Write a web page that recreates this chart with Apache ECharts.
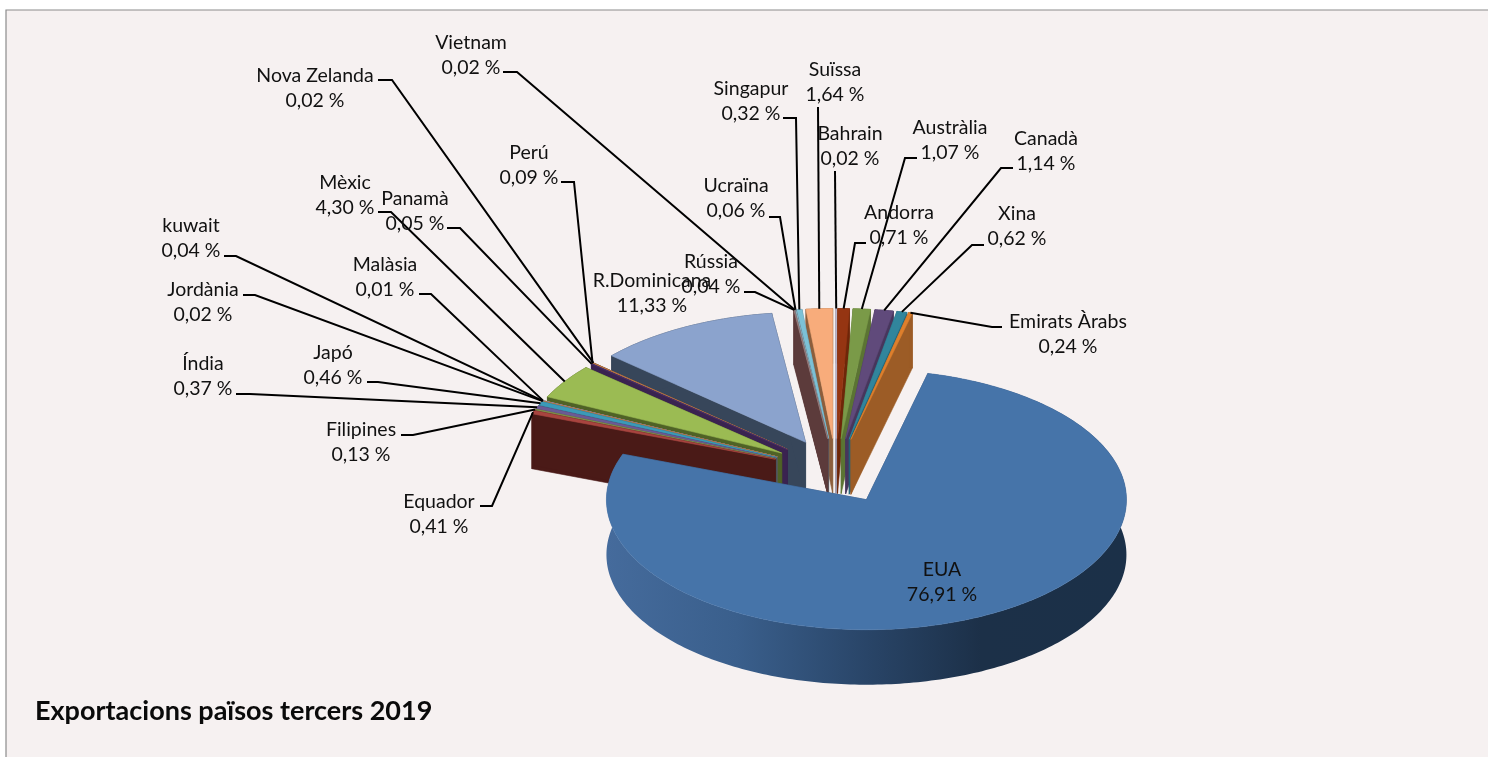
<!DOCTYPE html>
<html><head><meta charset="utf-8">
<style>html,body{margin:0;padding:0;background:#fff}#c{width:1488px;height:757px}</style>
<script src="https://cdn.jsdelivr.net/npm/echarts@6/dist/echarts.min.js"></script>
</head><body><div id="c"></div>
<script>
// ---- data (clockwise from 12 o'clock) ----
const categories = ['Bahrain','Andorra','Austràlia','Canadà','Xina','Emirats Àrabs','EUA','Equador','Filipines','Índia','Japó','Jordània','kuwait','Malàsia','Mèxic','Panamà','Perú','Nova Zelanda','R.Dominicana','Rússia','Vietnam','Ucraïna','Singapur','Suïssa'];
const shares = [0.02,0.71,1.07,1.14,0.62,0.24,76.91,0.41,0.13,0.37,0.46,0.02,0.04,0.01,4.30,0.05,0.09,0.02,11.33,0.04,0.02,0.06,0.32,1.64];
const chartTitle = 'Exportacions països tercers 2019';

// ---- styles ----
const topColors  = ['#cfc8da','#953512','#7a9a48','#604a7b','#31859c','#de7f2c','#4674a9','#a8443f','#7f8f4c','#6c5a94','#3b9ab8','#d07e3a','#8aa0c8','#c98a8a','#9bbb53','#4a3168','#d98a3d','#d98a3d','#8ba3cd','#9a7f7f','#8fb8c8','#8fc5d6','#7cc1d6','#f8ac7b'];
const wallColors = ['#8a8299','#6e2609','#5b7433','#47365c','#246374','#9c5c26','#2f4e74','#4a1a17','#5c6b38','#4d3f6b','#2a6f85','#7a4a20','#5f6f8f','#8f5f5f','#4f6226','#3a2350','#33284f','#33284f','#37465a','#5c3b3b','#5c3b3b','#5c3b3b','#5f7f8c','#8c5e3c'];

// ---- layout: pie plane ----
const geo = {cx:836, cy:471, rx:260, ry:130, depth:55, explode:0.25};
// label centre [x, y], leader start [x, y], leader elbow [x, y]
const labelLayout = {
 'Vietnam':[471,55,503,72,517,72],'Nova Zelanda':[315,88,378,80,392,80],'Perú':[529,165,561,182,574,182],
 'Mèxic':[345,195,378,212,391,212],'Panamà':[415,211,447,228,460,228],'kuwait':[191,238,224,256,236,256],
 'Malàsia':[385,277,419,294,431,294],'Jordània':[203,302,243,295,255,295],'Japó':[333,365,367,382,378,382],
 'Índia':[203,376,236,394,250,394],'Filipines':[361,442,401,435,413,435],'Equador':[439,514,480,506,492,506],
 'R.Dominicana':[652,293],'Rússia':[711,274,744,292,755,292],'Ucraïna':[736,198,769,217,780,217],
 'Singapur':[751,101,783,118,796,118],'Suïssa':[835,82,818,107,818,107],'Bahrain':[850,146,835,171,835,171],
 'Andorra':[899,225,866,243,855,243],'Austràlia':[950,140,917,158,905,158],'Canadà':[1046,151,1013,168,1001,168],
 'Xina':[1017,226,984,245,972,245],'Emirats Àrabs':[1068,334,1002,327,992,327],'EUA':[942,582]
};

const total = shares.reduce((a,b)=>a+b,0);
const deg = Math.PI/180;
let cum = 0;
const slices = shares.map((v,i)=>{const a0=cum/total*360*deg; cum+=v; const a1=cum/total*360*deg; return {i,a0,a1,mid:(a0+a1)/2};});
const paintRank = {};
slices.slice().sort((p,q)=>{
  if (categories[p.i]==='EUA') return 1; if (categories[q.i]==='EUA') return -1;
  return Math.cos(q.mid)-Math.cos(p.mid) ? Math.cos(p.mid)>Math.cos(q.mid)?-1:1 : 0;
}).forEach((s,k)=>paintRank[s.i]=k);

function apex(s){return [geo.cx+geo.explode*geo.rx*Math.sin(s.mid), geo.cy-geo.explode*geo.ry*Math.cos(s.mid)];}
function rim(s,a){const c=apex(s);return [c[0]+geo.rx*Math.sin(a), c[1]-geo.ry*Math.cos(a)];}
function arcPts(s){const n=Math.max(2,Math.ceil((s.a1-s.a0)/deg));const o=[];for(let k=0;k<=n;k++)o.push(rim(s,s.a0+(s.a1-s.a0)*k/n));return o;}
const dn=p=>[p[0],p[1]+geo.depth];
const fmt=v=>v.toFixed(2).replace('.',',')+' %';

function poly(points,fill,z2){return {type:'polygon',shape:{points},z2,style:{fill,stroke:typeof fill==='string'?fill:null,lineWidth:typeof fill==='string'?0.6:0}};}

const euaWall = new echarts.graphic.LinearGradient(0,0,1,0,[
 {offset:0,color:'#456b9c'},{offset:0.25,color:'#3a5f8c'},{offset:0.5,color:'#294568'},{offset:0.72,color:'#1c3048'},{offset:1,color:'#1b3048'}]);

function renderSlice(params,api){
  const i=api.value(0), s=slices[i], z=paintRank[i]*10+10;
  const c=apex(s), arc=arcPts(s), wall=wallColors[i], top=topColors[i];
  const kids=[];
  const isEUA=categories[i]==='EUA';
  kids.push(poly([c,arc[0],dn(arc[0]),dn(c)],wall,z));
  kids.push(poly([c,arc[arc.length-1],dn(arc[arc.length-1]),dn(c)],wall,z));
  const low=arc.slice().reverse().map(dn);
  kids.push(poly(arc.concat(low), isEUA?euaWall:wall, z+1));
  kids.push(poly([c].concat(arc),top,z+2));
  return {type:'group',children:kids};
}
function renderLabel(params,api){
  const i=api.value(0), s=slices[i], name=categories[i], L=labelLayout[name];
  const kids=[{type:'text',z2:1002,style:{x:L[0],y:L[1],text:name+'\n'+fmt(shares[i]),align:'center',verticalAlign:'middle',
      font:'19.5px Lato, "Open Sans", sans-serif',lineHeight:25.5,fill:'#111'}}];
  if(L.length>2){
    const e=rim(s,s.mid);
    kids.push({type:'polyline',z2:1000,shape:{points:[[L[2],L[3]],[L[4],L[5]],e]},style:{stroke:'#000',lineWidth:2,fill:null}});
  }
  return {type:'group',children:kids};
}
const rows=shares.map((v,i)=>[i,v]);
const chart=echarts.init(document.getElementById('c'),null,{renderer:'canvas'});
chart.setOption({
  animation:false,backgroundColor:'#fff',
  title:{text:chartTitle,left:35,top:698,padding:0,textStyle:{fontFamily:'Lato, "Open Sans", sans-serif',fontWeight:'bold',fontSize:27,color:'#0a0a0a'}},
  graphic:[{type:'rect',z:-10,silent:true,shape:{x:6,y:10,width:1600,height:900},style:{fill:'#f6f1f1',stroke:'#8c8c8c',lineWidth:1.2}}],
  series:[
    {type:'custom',coordinateSystem:'none',silent:true,clip:false,renderItem:renderSlice,data:rows,encode:{}},
    {type:'custom',coordinateSystem:'none',silent:true,clip:false,renderItem:renderLabel,data:rows,encode:{}}
  ]
});
</script></body></html>
